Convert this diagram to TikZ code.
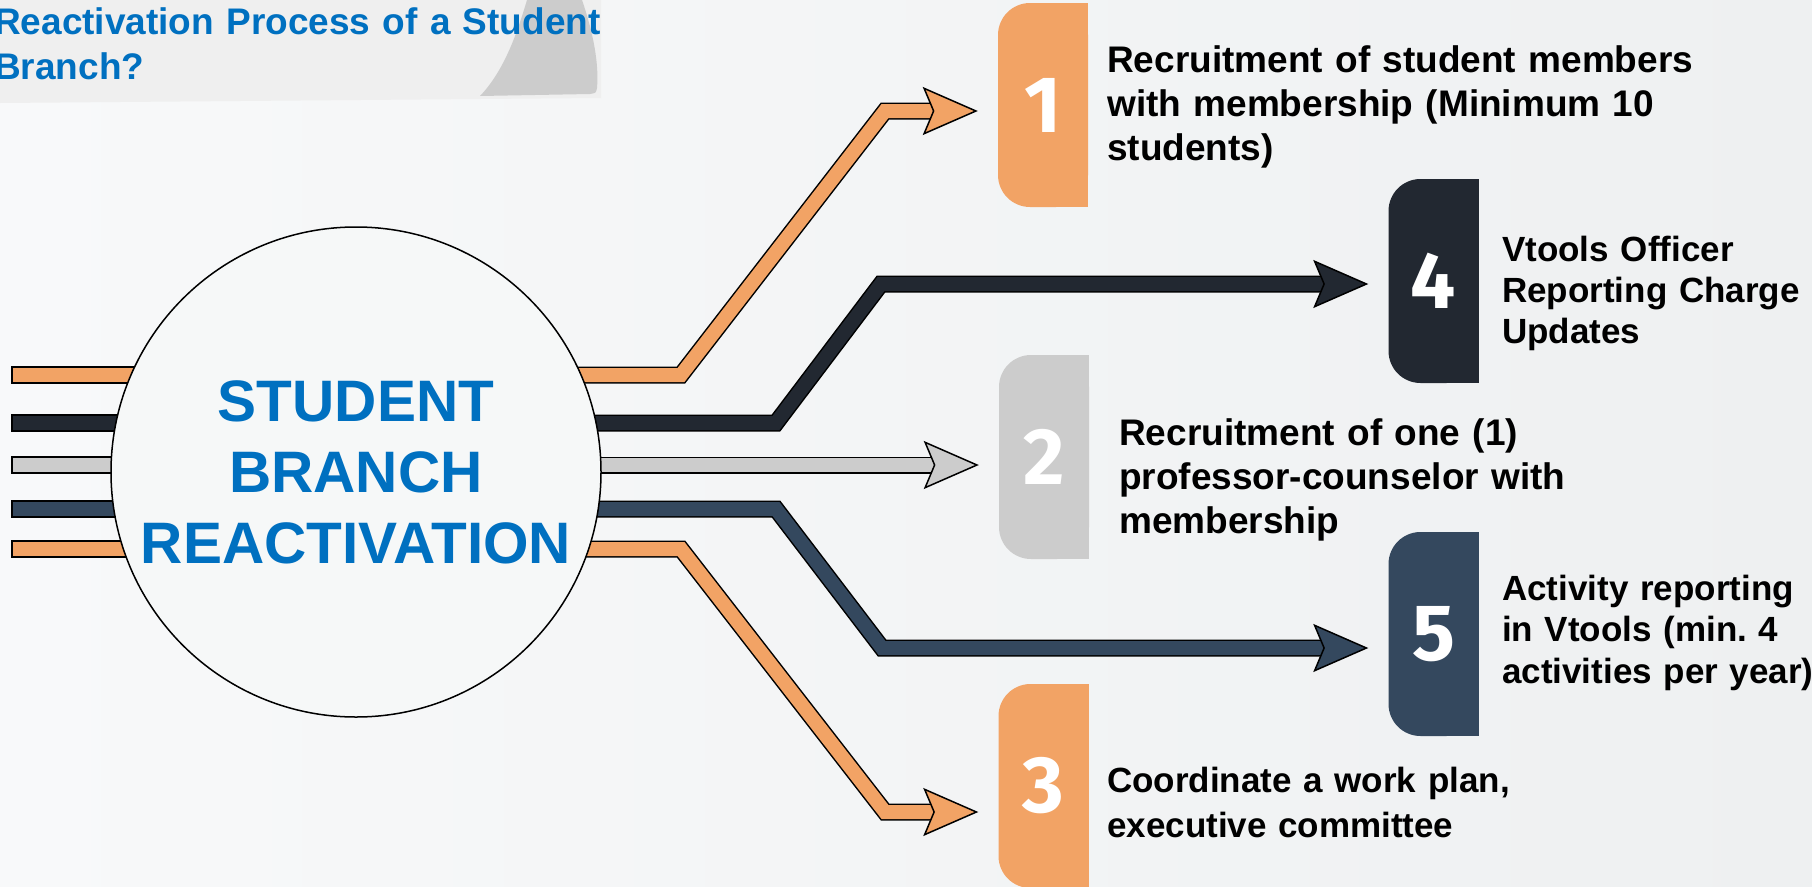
\documentclass[tikz,border=0pt]{standalone}
\usepackage{fontspec}
\setmainfont{Liberation Sans}
\newfontfamily\numfont{Fira Sans}
\usetikzlibrary{arrows.meta}
\frenchspacing

\definecolor{stepOrange}{RGB}{242,163,101}
\definecolor{stepDark}{RGB}{34,40,49}
\definecolor{stepGray}{RGB}{204,204,204}
\definecolor{stepNavy}{RGB}{52,72,94}
\definecolor{titleBlue}{RGB}{0,112,192}
\definecolor{hubFill}{RGB}{246,248,248}
\definecolor{pageLeft}{RGB}{248,249,250}
\definecolor{pageRight}{RGB}{238,240,241}
\definecolor{bannerGray}{RGB}{239,239,239}
\definecolor{curlGray}{RGB}{204,204,204}

\tikzset{
  band/.style={line width=14pt, draw=#1, line join=miter, shorten >=20pt,
    preaction={draw=black, line width=17pt, -, shorten >=64pt},
    -{Stealth[length=55pt, width=48pt, inset=10pt, line width'=1.5pt, color=black, fill=#1]}},
  numbox/.style={minimum width=90pt, minimum height=204pt, inner sep=0pt,
    text=white, font=\numfont\bfseries\fontsize{80}{80}\selectfont},
  steptext/.style 2 args={anchor=base west, align=left, text width=600pt, inner sep=0pt,
    font=\bfseries\fontsize{#1}{#2}\selectfont},
}

\begin{document}
\begin{tikzpicture}[x=1pt, y=-1pt]
    \useasboundingbox (0,0) rectangle (1812,886);
    \shade[left color=pageLeft, middle color=white, right color=pageRight] (0,0) rectangle (1812,886);

    % title banner
    \fill[bannerGray] (0,0) -- (601,0) -- (601,98) -- (0,103) -- cycle;
    \fill[curlGray] (480,96) .. controls (505,70) and (518,30) .. (527,0)
        -- (582,0) .. controls (594,35) and (599,65) .. (597,88)
        .. controls (596,93) .. (590,94) -- cycle;
    \node[anchor=base west, align=left, text width=640pt, inner sep=0pt, text=titleBlue,
        font=\bfseries\fontsize{37}{45}\selectfont] (title) at (-6,34)
        {Reactivation Process of a Student\\Branch?};

    % number boxes
    \foreach \n/\x/\y/\c in {1/1043/105/stepOrange, 2/1044/457/stepGray,
            3/1043.5/786/stepOrange, 4/1433.5/281/stepDark, 5/1433.5/634/stepNavy} {
        \fill[\c, rounded corners=32pt] (\x-45,\y-102) rectangle (\x+45,\y+102);
        \fill[\c] (\x,\y-102) rectangle (\x+45,\y+102);
        \node[numbox] (n\n) at (\x,\y) {\n};
    }

    % bends
    \coordinate (hubc) at (356,472);
    \coordinate (k1) at (681,375);
    \coordinate (m1) at (885,111);
    \coordinate (k4) at (776,423);
    \coordinate (m4) at (881,284);
    \coordinate (k2) at (600,465);
    \coordinate (k5) at (776,509);
    \coordinate (m5) at (882,648);
    \coordinate (k3) at (681,549);
    \coordinate (m3) at (885,812);

    % inputs
    \foreach \y/\c in {375/stepOrange, 423/stepDark, 465/stepGray, 509/stepNavy, 549/stepOrange}
        \draw[fill=\c, line width=1.5pt] (12,\y-8) rectangle (hubc |- 0,\y+8);

    \draw[band=stepOrange] (hubc |- k1) -- (k1) -- (m1) -- (n1.west |- m1);
    \draw[band=stepDark] (hubc |- k4) -- (k4) -- (m4) -- (n4.west |- m4);
    \draw[band=stepGray] (hubc |- k2) -- (n2.west |- k2);
    \draw[band=stepNavy] (hubc |- k5) -- (k5) -- (m5) -- (n5.west |- m5);
    \draw[band=stepOrange] (hubc |- k3) -- (k3) -- (m3) -- (n3.west |- m3);

    \node[circle, draw, line width=1.5pt, fill=hubFill, minimum size=490pt, inner sep=0pt,
        align=center, text=titleBlue, font=\bfseries\fontsize{58.5}{71}\selectfont]
        (hub) at (hubc) {STUDENT\\BRANCH\\REACTIVATION};

    \node[steptext={37}{44pt}] (t1) at (1107,72) {Recruitment of student members\\with membership (Minimum 10\\students)};
    \node[steptext={35}{41pt}] (t4) at (1502,261) {Vtools Officer\\Reporting Charge\\Updates};
    \node[steptext={37}{44pt}] (t2) at (1119,445) {Recruitment of one (1)\\professor-counselor with\\membership};
    \node[steptext={35}{41.5pt}] (t5) at (1502,600) {Activity reporting\\in Vtools (min. 4\\activities per year)};
    \node[steptext={35}{45pt}] (t3) at (1107,792) {Coordinate a work plan,\\executive committee};
\end{tikzpicture}
\end{document}
